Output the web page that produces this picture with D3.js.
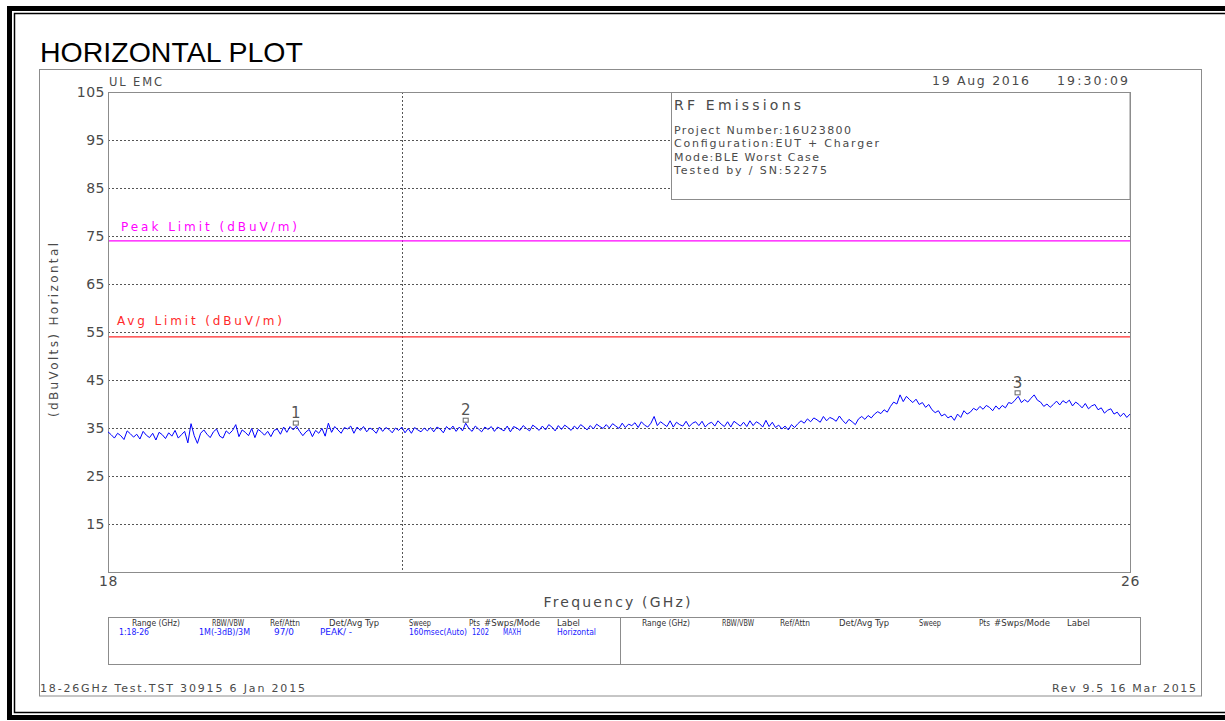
<!DOCTYPE html>
<html>
<head>
<meta charset="utf-8">
<script src="https://cdn.jsdelivr.net/npm/d3@7"></script>
<style>
  html, body { margin: 0; padding: 0; background: #fff; }
  svg { display: block; }
  text { font-family: "DejaVu Sans", "Liberation Sans", sans-serif; }
</style>
</head>
<body>
<svg id="chart" width="1225" height="721"></svg>
<script>
// ---- sweep data ----
const freqRange = [18, 26];          // GHz
const levelRange = [5, 105];         // dBuV
const levelTicks = [105, 95, 85, 75, 65, 55, 45, 35, 25, 15];
const freqTicks = [18, 26];
const peakLimit = 74;
const avgLimit = 54;
const dividerFreq = 20.3;

// trace 1 (max hold), evenly spaced sweep points across the span
const traceLevels = [
  34.2, 33.6, 32.9, 33.9, 33.4, 32.6, 34.4, 33.8, 33.1, 33.7,
  32.7, 34.3, 33.5, 33.0, 33.9, 32.5, 34.1, 33.6, 32.8, 34.0,
  33.3, 34.5, 32.9, 33.6, 34.3, 31.9, 35.9, 33.4, 31.8, 33.9,
  34.6, 33.7, 33.0, 34.2, 34.8, 33.3, 32.9, 34.4, 33.8, 34.5,
  35.7, 33.2, 34.6, 34.1, 33.4, 34.9, 33.0, 34.7, 34.2, 33.5,
  34.3, 33.2, 34.5, 34.8, 33.7, 35.2, 34.1, 35.3, 34.6, 35.4,
  34.3, 33.4, 34.2, 34.7, 33.2, 34.5, 33.9, 34.9, 33.3, 36.0,
  34.1, 35.3, 34.6, 33.9, 35.1, 34.8, 35.4, 33.9, 35.2, 34.5,
  35.3, 34.2, 35.0, 34.6, 33.9, 35.2, 34.3, 35.1, 34.7, 34.0,
  35.0, 34.5, 35.2, 34.0, 34.9, 33.9, 35.1, 34.6, 34.2, 35.0,
  34.4, 35.1, 34.2, 35.2, 34.8, 34.0, 35.3, 34.6, 35.4, 34.3,
  35.2, 34.4, 36.0, 34.9, 34.3, 35.4, 34.8, 34.2, 35.2, 34.7,
  35.3, 34.3, 35.2, 34.8, 34.4, 35.4, 34.2, 35.3, 35.0, 34.5,
  35.5, 34.9, 34.4, 35.6, 35.1, 34.5, 35.4, 34.6, 35.7, 35.2,
  34.4, 35.5, 34.7, 35.6, 35.1, 34.5, 35.4, 34.8, 35.7, 35.2,
  34.6, 35.5, 34.8, 35.8, 35.3, 34.9, 35.7, 35.0, 35.9, 35.4,
  34.9, 36.0, 35.1, 35.8, 35.5, 36.1, 35.1, 36.3, 35.6, 35.2,
  36.0, 37.4, 35.5, 36.3, 35.8, 35.3, 36.5, 35.2, 36.2, 35.7,
  35.4, 36.4, 35.3, 36.0, 36.3, 35.5, 36.4, 35.2, 35.9, 36.2,
  35.4, 36.5, 35.8, 35.3, 36.3, 35.2, 36.4, 35.9, 35.4, 36.2,
  35.3, 36.5, 35.5, 36.3, 35.9, 35.2, 36.6, 35.3, 36.2, 35.1,
  35.6, 34.8, 35.4, 34.6, 35.7, 35.1, 35.9, 36.5, 36.0, 36.9,
  36.3, 37.1, 36.7, 36.2, 37.4, 36.5, 37.2, 36.9, 36.4, 37.5,
  36.6, 35.9, 36.8, 36.3, 35.7, 36.9, 37.4, 36.8, 37.6, 37.1,
  37.9, 38.4, 38.0, 38.8, 38.3, 39.5, 40.4, 40.0, 41.9, 40.5,
  41.6, 40.9, 40.3, 41.0, 39.9, 40.3, 39.3, 39.9, 38.8, 38.2,
  38.6, 37.5, 37.9, 37.1, 37.5, 36.6, 37.9, 37.2, 38.6, 37.9,
  38.3, 39.1, 38.7, 39.5, 38.9, 39.7, 39.3, 38.6, 39.6, 38.9,
  39.7, 39.2, 40.3, 40.1, 40.8, 41.6, 40.3, 40.9, 40.4, 41.2,
  41.9, 40.8, 40.4, 39.5, 40.0, 39.3, 39.9, 40.6, 39.8, 40.7,
  40.2, 40.8, 39.6, 40.4, 39.9, 39.2, 40.1, 39.0, 39.6, 39.9,
  38.8, 39.2, 38.1, 38.7, 39.0, 37.9, 38.3, 37.4, 38.1, 37.2,
  37.9
];

const markerIds = ["1", "2", "3"];
const markerFreqs = [19.47, 20.80, 25.12];
const markerLevels = [35.4, 36.0, 41.7];

// ---- annotation text ----
const pageTitle = "HORIZONTAL PLOT";
const labName = "UL EMC";
const runDate = "19 Aug 2016";
const runTime = "19:30:09";
const infoTitle = "RF Emissions";
const infoLines = [
  "Project Number:16U23800",
  "Configuration:EUT + Charger",
  "Mode:BLE Worst Case",
  "Tested by / SN:52275"
];
const yTitle = "(dBuVolts) Horizontal";
const xTitle = "Frequency (GHz)";
const peakLabel = "Peak Limit (dBuV/m)";
const avgLabel = "Avg Limit (dBuV/m)";
const tableHeaders = ["Range (GHz)", "RBW/VBW", "Ref/Attn", "Det/Avg Typ", "Sweep", "Pts", "#Swps/Mode", "Label"];
const traceSettings = ["1:18-26", "1M(-3dB)/3M", "97/0", "PEAK/ -", "160msec(Auto)", "1202", "MAXH", "Horizontal"];
const footerLeft = "18-26GHz Test.TST 30915  6 Jan 2015";
const footerRight = "Rev 9.5 16 Mar 2015";

// ---- drawing ----
const svg = d3.select("#chart");
const plot = { left: 108, right: 1130, top: 92, bottom: 572 };
const gray = "#8c8c8c";
const ink = "#4a4a4a";

const x = d3.scaleLinear().domain(freqRange).range([plot.left, plot.right]);
const y = d3.scaleLinear().domain(levelRange).range([plot.bottom, plot.top]);

// page frame
svg.append("rect").attr("x", 7).attr("y", 6).attr("width", 1218).attr("height", 5).attr("fill", "#000");
svg.append("rect").attr("x", 7).attr("y", 6).attr("width", 5).attr("height", 714).attr("fill", "#000");
svg.append("rect").attr("x", 7).attr("y", 715).attr("width", 1218).attr("height", 5).attr("fill", "#000");
svg.append("path").attr("d", "M1225,13.5H14.5V712.5H1225").attr("fill", "none").attr("stroke", "#000").attr("stroke-width", 1.5);

svg.append("text").attr("x", 40).attr("y", 62)
  .style("font-family", "'Liberation Sans', Arial, sans-serif")
  .style("font-size", "28.5px").attr("fill", "#000").text(pageTitle);

svg.append("rect").attr("x", 39.5).attr("y", 69.5).attr("width", 1162).attr("height", 626.5)
  .attr("fill", "none").attr("stroke", gray);

// grid
const grid = svg.append("g");
grid.selectAll("line.h").data(levelTicks.filter(d => d !== levelRange[1])).join("line")
  .attr("x1", plot.left).attr("x2", plot.right)
  .attr("y1", d => Math.round(y(d)) + 0.5).attr("y2", d => Math.round(y(d)) + 0.5)
  .attr("stroke", "#555").attr("stroke-dasharray", "2,2");
grid.append("line")
  .attr("x1", Math.round(x(dividerFreq)) + 0.5).attr("x2", Math.round(x(dividerFreq)) + 0.5)
  .attr("y1", plot.top).attr("y2", plot.bottom)
  .attr("stroke", "#555").attr("stroke-dasharray", "2,2");

// limit lines
svg.append("line").attr("x1", plot.left).attr("x2", plot.right)
  .attr("y1", y(peakLimit)).attr("y2", y(peakLimit))
  .attr("stroke", "#ff00ff").attr("stroke-width", 1.3);
svg.append("line").attr("x1", plot.left).attr("x2", plot.right)
  .attr("y1", y(avgLimit)).attr("y2", y(avgLimit))
  .attr("stroke", "#ff2a2a").attr("stroke-width", 1.3);

svg.append("text").attr("x", 121).attr("y", y(peakLimit) - 9.5)
  .attr("fill", "#ff00ff").style("font-size", "12px")
  .attr("textLength", 176).attr("lengthAdjust", "spacing").text(peakLabel);
svg.append("text").attr("x", 117).attr("y", y(avgLimit) - 12)
  .attr("fill", "#ff2a2a").style("font-size", "12px")
  .attr("textLength", 165).attr("lengthAdjust", "spacing").text(avgLabel);

// information box
const info = svg.append("g");
info.append("rect").attr("x", 671.5).attr("y", plot.top + 0.5).attr("width", plot.right - 671.5).attr("height", 107)
  .attr("fill", "#fff").attr("stroke", gray);
info.append("text").attr("x", 674).attr("y", 110).attr("fill", ink).style("font-size", "14px")
  .attr("textLength", 127).attr("lengthAdjust", "spacing").text(infoTitle);
const infoWidths = [177, 205, 145, 153];
info.selectAll("text.line").data(infoLines).join("text")
  .attr("x", 674).attr("y", (d, i) => 134 + i * 13.3)
  .attr("fill", ink).style("font-size", "11px")
  .attr("textLength", (d, i) => infoWidths[i]).attr("lengthAdjust", "spacing")
  .text(d => d);

// plot border
svg.append("rect").attr("x", plot.left + 0.5).attr("y", plot.top + 0.5)
  .attr("width", plot.right - plot.left).attr("height", plot.bottom - plot.top)
  .attr("fill", "none").attr("stroke", gray);

// trace
const traceFreqs = traceLevels.map((_, i) =>
  freqRange[0] + i * (freqRange[1] - freqRange[0]) / (traceLevels.length - 1));
const line = d3.line().x((d, i) => x(traceFreqs[i])).y(d => y(d));
svg.append("path").datum(traceLevels).attr("d", line)
  .attr("fill", "none").attr("stroke", "#0000ff").attr("stroke-width", 1).attr("stroke-linejoin", "round");

// markers
const mk = svg.append("g").selectAll("g").data(markerIds).join("g")
  .attr("transform", (d, i) => `translate(${x(markerFreqs[i])},${y(markerLevels[i])})`);
mk.append("rect").attr("x", -2.5).attr("y", -5).attr("width", 5).attr("height", 4)
  .attr("fill", "none").attr("stroke", "#666").attr("stroke-width", 1);
mk.append("text").attr("x", 0).attr("y", -8).attr("text-anchor", "middle")
  .attr("fill", "#555").style("font-size", "15px").text(d => d);

// y axis
const yAxis = d3.axisLeft(y).tickValues(levelTicks).tickSize(0).tickPadding(3);
const gy = svg.append("g").attr("transform", `translate(${plot.left},0)`).call(yAxis);
gy.select(".domain").remove();
gy.selectAll("text").style("font-size", "14px").style("font-family", "'DejaVu Sans', sans-serif")
  .attr("fill", ink).attr("letter-spacing", "0.5px");

// x axis
const xAxis = d3.axisBottom(x).tickValues(freqTicks).tickSize(0).tickPadding(4).tickFormat(d3.format("d"));
const gx = svg.append("g").attr("transform", `translate(0,${plot.bottom})`).call(xAxis);
gx.select(".domain").remove();
gx.selectAll("text").style("font-size", "14px").style("font-family", "'DejaVu Sans', sans-serif")
  .attr("fill", ink).attr("letter-spacing", "0.5px");

// axis titles
svg.append("text").attr("transform", "translate(58,330) rotate(-90)")
  .attr("text-anchor", "middle").attr("fill", ink).style("font-size", "12px")
  .attr("textLength", 174).attr("lengthAdjust", "spacing").text(yTitle);
svg.append("text").attr("x", 617).attr("y", 607).attr("text-anchor", "middle")
  .attr("fill", ink).style("font-size", "14px")
  .attr("textLength", 147).attr("lengthAdjust", "spacing").text(xTitle);

// header line
svg.append("text").attr("x", 109).attr("y", 86).attr("fill", ink).style("font-size", "11.5px")
  .attr("textLength", 53).attr("lengthAdjust", "spacing").text(labName);
svg.append("text").attr("x", 932).attr("y", 85).attr("fill", ink).style("font-size", "12.5px")
  .attr("textLength", 97).attr("lengthAdjust", "spacing").text(runDate);
svg.append("text").attr("x", 1057).attr("y", 85).attr("fill", ink).style("font-size", "12.5px")
  .attr("textLength", 71).attr("lengthAdjust", "spacing").text(runTime);

// settings table
const table = svg.append("g");
table.append("rect").attr("x", 108.5).attr("y", 617.5).attr("width", 1032).attr("height", 47)
  .attr("fill", "none").attr("stroke", gray);
table.append("line").attr("x1", 620.5).attr("x2", 620.5).attr("y1", 617.5).attr("y2", 664.5).attr("stroke", gray);
const headX = [132, 212, 270, 329, 409, 469, 484, 557];
const headW = [48, 32, 30, 50, 22, 11, 56, 23];
const valX = [119, 199, 274, 320, 409, 472, 503, 557];
const valW = [30, 51, 20, 32, 58, 17, 18, 39];
const tfont = "'DejaVu Sans Condensed', 'Liberation Sans Narrow', 'DejaVu Sans', sans-serif";
[0, 510].forEach(off => {
  table.append("g").selectAll("text").data(tableHeaders).join("text")
    .attr("x", (d, i) => headX[i] + off).attr("y", 626)
    .attr("fill", "#333").style("font-size", "8.5px").style("font-family", tfont)
    .attr("textLength", (d, i) => headW[i]).attr("lengthAdjust", "spacingAndGlyphs")
    .text(d => d);
});
table.append("g").selectAll("text").data(traceSettings).join("text")
  .attr("x", (d, i) => valX[i]).attr("y", 634.5)
  .attr("fill", "#1a1aff").style("font-size", "8.5px").style("font-family", tfont)
  .attr("textLength", (d, i) => valW[i]).attr("lengthAdjust", "spacingAndGlyphs")
  .text(d => d);

// footer
svg.append("text").attr("x", 40).attr("y", 692).attr("fill", ink).style("font-size", "11px")
  .attr("textLength", 265).attr("lengthAdjust", "spacing").text(footerLeft);
svg.append("text").attr("x", 1052).attr("y", 692).attr("fill", ink).style("font-size", "11px")
  .attr("textLength", 144).attr("lengthAdjust", "spacing").text(footerRight);
</script>
</body>
</html>
